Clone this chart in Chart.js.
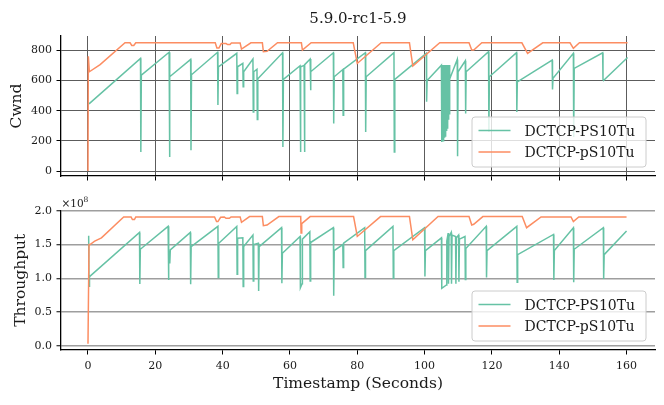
<!DOCTYPE html>
<html>
<head>
<meta charset="utf-8">
<script src="https://cdn.jsdelivr.net/npm/chart.js@4/dist/chart.umd.min.js"></script>
<style>
    body { margin: 0; background: #fff; }
    #wrap { position: relative; width: 664px; height: 405px; }
    canvas { position: absolute; left: 0; }
    #cwndChart { top: 0; }
    #tputChart { top: 190px; }
</style>
</head>
<body>
<div id="wrap">
    <canvas id="cwndChart" width="664" height="190"></canvas>
    <canvas id="tputChart" width="664" height="215"></canvas>
</div>
<script>
var seriesNames = ['DCTCP-PS10Tu', 'DCTCP-pS10Tu'];
var seriesColors = ['#66c2a5', '#fc8d62'];
var xTicks = [0, 20, 40, 60, 80, 100, 120, 140, 160];
var cwndTicks = [0, 200, 400, 600, 800];
var tputTicks = [0, 0.5, 1.0, 1.5, 2.0];   // x 10^8

// DCTCP-PS10Tu, Cwnd
var psCwndTime = [0.3, 15.6, 15.7, 15.85, 24.1, 24.2, 24.35, 30.5, 30.6, 30.75, 38.5, 38.6, 38.75,
    44.2, 44.3, 44.45, 46.0, 46.1, 46.25, 49.0, 49.1, 49.25, 50.2, 50.3, 50.45, 57.8, 57.9, 58.05,
    63.0, 63.1, 63.25, 64.2, 64.3, 64.45, 66.0, 66.1, 66.25, 72.9, 73.0, 73.15, 75.7, 75.8, 75.95,
    82.4, 82.5, 82.65, 90.9, 91.0, 91.15, 100.5, 100.6, 100.75, 105.0,
    105.1, 105.2, 105.3, 105.4, 105.5, 105.6, 105.7, 105.8, 105.9, 106.0, 106.1, 106.2,
    106.3, 106.4, 106.5, 106.6, 106.7, 106.8, 106.9, 107.0, 107.1, 107.2, 107.3, 107.4,
    107.5, 109.7, 109.8, 109.95, 112.1, 112.2, 112.35, 119.0, 119.1, 119.25, 127.3, 127.4, 127.55,
    137.9, 138.0, 138.15, 144.2, 144.3, 144.45, 152.9, 153.0, 153.15, 160.3];
var psCwnd = [445, 747, 126, 636, 787, 93, 625, 740, 137, 638, 787, 437, 690,
    780, 514, 691, 713, 558, 658, 742, 392, 658, 675, 341, 612, 784, 159, 607,
    698, 126, 690, 700, 126, 705, 742, 536, 658, 784, 315, 625, 673, 370, 675,
    784, 259, 625, 784, 126, 607, 780, 459, 600, 702,
    193, 702, 195, 702, 200, 702, 210, 702, 220, 702, 232, 702,
    248, 702, 265, 702, 285, 702, 310, 702, 340, 702, 380, 702,
    610, 740, 98, 658, 731, 381, 658, 791, 259, 625, 785, 392, 591,
    735, 541, 614, 780, 226, 680, 784, 607, 600, 753];

// DCTCP-pS10Tu, Cwnd
var pSCwndTime = [0, 0.1, 0.4, 3.6, 11.0, 12.5, 13.0, 13.6, 14.2, 37.8, 38.3, 38.9, 39.6, 41.0, 41.5,
    42.2, 42.6, 45.2, 45.6, 48.4, 51.8, 52.1, 53.2, 56.3, 63.4, 63.7, 66.3, 78.8, 80.0, 87.1,
    95.5, 96.5, 104.5, 113.2, 114.0, 114.6, 117.0, 128.9, 130.6, 135.1, 143.2, 144.2, 146.0, 160.3];
var pSCwnd = [0, 760, 658, 705, 850, 850, 832, 832, 850, 850, 815, 815, 845, 845, 838,
    838, 848, 848, 808, 850, 850, 791, 793, 850, 850, 802, 850, 850, 713, 850,
    850, 696, 850, 850, 802, 802, 850, 850, 780, 850, 850, 813, 850, 850];

// DCTCP-PS10Tu, Throughput (x 10^8)
var psTputTime = [0.2, 0.3, 0.45, 15.3, 15.4, 15.55, 23.8, 23.9, 24.05, 24.3, 24.45, 30.4, 30.5, 30.65,
    38.6, 38.7, 38.85, 44.2, 44.3, 44.45, 46.0, 46.1, 46.25, 49.0, 49.1, 49.25, 50.6, 50.7, 50.85,
    57.5, 57.6, 57.75, 63.0, 63.1, 63.6, 63.7, 65.9, 66.0, 66.15, 72.9, 73.0, 73.15, 75.7, 75.8, 75.95,
    82.2, 82.3, 82.45, 90.6, 90.7, 90.85, 100.0, 100.1, 100.25, 105.0, 105.1, 106.5, 106.6,
    107.0, 107.1, 107.25, 107.9, 108.0, 108.15, 109.2, 109.3, 109.45, 110.1, 110.2, 110.35,
    112.0, 112.1, 112.25, 118.3, 118.4, 118.55, 127.4, 127.5, 127.65, 138.3, 138.4, 138.55,
    144.2, 144.3, 144.45, 153.1, 153.2, 153.35, 160.0];
var psTput = [1.63, 0.88, 1.025, 1.68, 0.916, 1.43, 1.77, 0.975, 1.40, 1.22, 1.42, 1.68, 0.91, 1.47,
    1.77, 1.01, 1.52, 1.77, 1.06, 1.595, 1.60, 0.876, 1.47, 1.64, 0.96, 1.50, 1.52, 0.81, 1.47,
    1.75, 0.925, 1.37, 1.62, 0.86, 0.92, 1.58, 1.69, 0.96, 1.53, 1.75, 0.74, 1.41, 1.50, 1.16, 1.52,
    1.75, 1.01, 1.41, 1.77, 1.00, 1.41, 1.75, 1.025, 1.41, 1.60, 0.85, 0.90, 1.55,
    1.67, 0.92, 1.62, 1.68, 0.92, 1.64, 1.62, 0.92, 1.60, 1.64, 0.95, 1.58,
    1.62, 0.98, 1.44, 1.77, 1.01, 1.41, 1.77, 0.94, 1.35, 1.65, 0.975, 1.41,
    1.75, 0.94, 1.43, 1.75, 0.99, 1.35, 1.70];

// DCTCP-pS10Tu, Throughput (x 10^8)
var pSTputTime = [0, 0.3, 0.6, 2.0, 4.0, 10.6, 12.8, 13.2, 13.8, 14.2, 37.6, 38.2, 38.6, 39.4, 40.5,
    41.0, 42.0, 42.5, 45.2, 45.6, 48.0, 51.8, 52.1, 53.2, 56.7, 63.2, 63.3, 63.5, 66.0, 78.9, 80.0,
    86.9, 95.5, 96.5, 104.0, 113.2, 114.0, 114.6, 117.3, 129.0, 130.3, 134.6, 143.5, 144.2, 145.8, 160.0];
var pSTput = [0.03, 1.50, 1.50, 1.55, 1.60, 1.91, 1.91, 1.87, 1.87, 1.91, 1.91, 1.84, 1.84, 1.905, 1.91,
    1.89, 1.89, 1.91, 1.91, 1.83, 1.915, 1.915, 1.78, 1.79, 1.915, 1.915, 1.67, 1.81, 1.915, 1.915, 1.62,
    1.915, 1.915, 1.57, 1.915, 1.915, 1.79, 1.80, 1.915, 1.915, 1.75, 1.91, 1.91, 1.84, 1.91, 1.91];

var serif = '"DejaVu Serif", serif';

function toPoints(xs, ys){
    var pts = [];
    for(var i = 0; i < xs.length; i++){
        pts.push({x: xs[i], y: ys[i]});
    }
    return pts;
}

function createDataset(index, xs, ys){
    return {
        label: seriesNames[index],
        data: toPoints(xs, ys),
        borderColor: seriesColors[index],
        borderWidth: 1.5,
        pointRadius: 0,
        tension: 0,
        order: 2 - index
    };
}

function fixTicks(values){
    return function(scale){
        scale.ticks = values.map(function(v){ return {value: v}; });
    };
}

function drawLegend(ctx, area){
    var w = 174, h = 50, r = 3;
    var bx = area.right - 9 - w;
    var by = area.bottom - 9 - h;
    ctx.save();
    ctx.beginPath();
    ctx.moveTo(bx + r, by);
    ctx.arcTo(bx + w, by, bx + w, by + h, r);
    ctx.arcTo(bx + w, by + h, bx, by + h, r);
    ctx.arcTo(bx, by + h, bx, by, r);
    ctx.arcTo(bx, by, bx + w, by, r);
    ctx.closePath();
    ctx.fillStyle = 'rgba(255,255,255,0.8)';
    ctx.fill();
    ctx.strokeStyle = '#cccccc';
    ctx.lineWidth = 1;
    ctx.stroke();
    ctx.font = '14px ' + serif;
    ctx.textAlign = 'left';
    ctx.textBaseline = 'alphabetic';
    for(var i = 0; i < seriesNames.length; i++){
        var y = by + 13.5 + i * 21.5;
        ctx.strokeStyle = seriesColors[i];
        ctx.lineWidth = 1.5;
        ctx.beginPath();
        ctx.moveTo(bx + 6.5, y);
        ctx.lineTo(bx + 38.5, y);
        ctx.stroke();
        ctx.fillStyle = '#1a1a1a';
        ctx.fillText(seriesNames[i], bx + 52.5, y + 5);
    }
    ctx.restore();
}

function drawRotated(ctx, text, x, y){
    ctx.save();
    ctx.translate(x, y);
    ctx.rotate(-Math.PI / 2);
    ctx.font = '15.5px ' + serif;
    ctx.fillStyle = '#1a1a1a';
    ctx.textAlign = 'center';
    ctx.textBaseline = 'alphabetic';
    ctx.fillText(text, 0, 0);
    ctx.restore();
}

var cwndDecor = {
    id: 'cwndDecor',
    afterDraw: function(chart){
        var ctx = chart.ctx;
        var area = chart.chartArea;
        ctx.save();
        ctx.font = '15px ' + serif;
        ctx.fillStyle = '#1a1a1a';
        ctx.textAlign = 'center';
        ctx.fillText('5.9.0-rc1-5.9', (area.left + area.right) / 2, 22.7);
        ctx.restore();
        drawRotated(ctx, 'Cwnd', 21, (area.top + area.bottom) / 2);
        drawLegend(ctx, area);
    }
};

var tputDecor = {
    id: 'tputDecor',
    afterDraw: function(chart){
        var ctx = chart.ctx;
        var area = chart.chartArea;
        drawRotated(ctx, 'Throughput', 24.5, (area.top + area.bottom) / 2);
        ctx.save();
        ctx.fillStyle = '#1a1a1a';
        ctx.textAlign = 'center';
        ctx.font = '15.5px ' + serif;
        ctx.fillText('Timestamp (Seconds)', (area.left + area.right) / 2, 198);
        ctx.textAlign = 'left';
        ctx.font = '10.5px ' + serif;
        ctx.fillText('\u00d710', 61.5, 16.7);
        ctx.font = '7.5px ' + serif;
        ctx.fillText('8', 83.5, 11.5);
        ctx.restore();
        drawLegend(ctx, area);
    }
};

function xScale(showLabels, gridOnArea, height){
    return {
        type: 'linear',
        min: -8.02,
        max: 168.45,
        afterBuildTicks: fixTicks(xTicks),
        afterFit: function(scale){ scale.height = height; },
        ticks: {
            display: showLabels,
            padding: 5,
            color: '#1a1a1a',
            font: {family: serif, size: 11},
            maxRotation: 0
        },
        grid: {
            display: true,
            drawOnChartArea: gridOnArea,
            drawTicks: true,
            tickLength: 4.5,
            tickColor: '#000',
            tickWidth: 1,
            color: '#5c5c5c',
            lineWidth: 1
        },
        border: {display: true, color: '#000', width: 1.3}
    };
}

function yScale(min, max, values, gridColor, gridWidth, fmt){
    return {
        type: 'linear',
        min: min,
        max: max,
        afterBuildTicks: fixTicks(values),
        afterFit: function(scale){ scale.width = 61; },
        ticks: {
            padding: 4.5,
            color: '#1a1a1a',
            font: {family: serif, size: 11},
            callback: fmt
        },
        grid: {
            display: true,
            drawTicks: true,
            tickLength: 4.5,
            tickColor: '#000',
            tickWidth: 1,
            color: gridColor,
            lineWidth: gridWidth
        },
        border: {display: true, color: '#000', width: 1.3}
    };
}

function createConfig(datasets, x, y, top, plugin){
    return {
        type: 'line',
        data: {datasets: datasets},
        options: {
            responsive: false,
            animation: false,
            events: [],
            layout: {padding: {left: 0, right: 9, top: top, bottom: 0}},
            plugins: {legend: {display: false}, tooltip: {enabled: false}, title: {display: false}},
            scales: {x: x, y: y}
        },
        plugins: [plugin]
    };
}

var cwndConfig = createConfig(
    [createDataset(0, psCwndTime, psCwnd), createDataset(1, pSCwndTime, pSCwnd)],
    xScale(false, true, 14),
    yScale(-33, 895, cwndTicks, '#5c5c5c', 1, function(v){ return String(v); }),
    36, cwndDecor);

var tputConfig = createConfig(
    [createDataset(0, psTputTime, psTput), createDataset(1, pSTputTime, pSTput)],
    xScale(true, false, 55),
    yScale(-0.064, 2.005, tputTicks, '#9e9e9e', 1.5, function(v){ return v.toFixed(1); }),
    20.5, tputDecor);

new Chart(document.getElementById('cwndChart').getContext('2d'), cwndConfig);
new Chart(document.getElementById('tputChart').getContext('2d'), tputConfig);
</script>
</body>
</html>
